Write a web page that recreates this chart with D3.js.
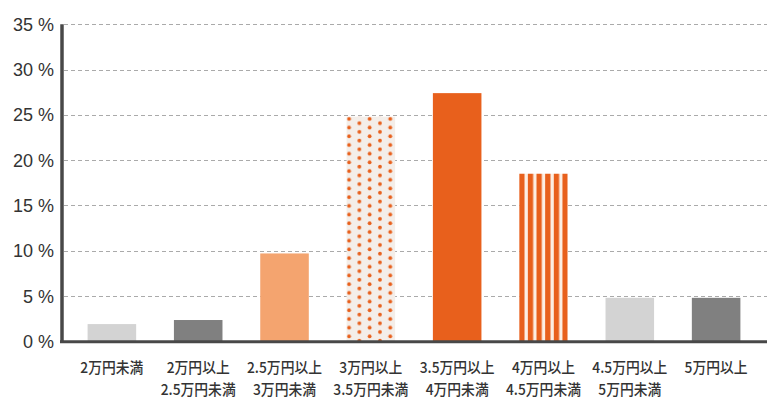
<!DOCTYPE html>
<html><head><meta charset="utf-8">
<script src="https://cdn.jsdelivr.net/npm/d3@7"></script>
<style>
html,body{margin:0;padding:0;background:#fff;}
svg{display:block;}
</style>
</head><body>
<svg id="chart" width="780" height="410"></svg>
<script>
const categories = [
  ["2万円未満"],
  ["2万円以上","2.5万円未満"],
  ["2.5万円以上","3万円未満"],
  ["3万円以上","3.5万円未満"],
  ["3.5万円以上","4万円未満"],
  ["4万円以上","4.5万円未満"],
  ["4.5万円以上","5万円未満"],
  ["5万円以上"]
];
const values = [1.9, 2.35, 9.7, 24.8, 27.4, 18.5, 4.8, 4.8];
const yTicks = [0, 5, 10, 15, 20, 25, 30, 35];
const barStyles = ["#d3d3d3", "#808080", "#f4a46f", "url(#dots)", "#e8601c", "url(#stripes)", "#d3d3d3", "#808080"];

const svg = d3.select("#chart");
const x = d3.scaleBand().domain(d3.range(categories.length)).range([63, 765]).paddingInner(0.4375).paddingOuter(0.285);
const y = d3.scaleLinear().domain([0, 35]).range([341.3, 24.3]);
const bw = x.bandwidth();

const defs = svg.append("defs");
const sx = x(5);
const stripeW = 5.3;
const period = (bw - stripeW) / 5;
const sp = defs.append("pattern").attr("id", "stripes").attr("patternUnits", "userSpaceOnUse")
  .attr("x", sx).attr("y", 0).attr("width", period).attr("height", 10);
sp.append("rect").attr("width", period).attr("height", 10).attr("fill", "#fdeee2");
sp.append("rect").attr("width", stripeW).attr("height", 10).attr("fill", "#e8601c");
const dx = x(3);
const dp = defs.append("pattern").attr("id", "dots").attr("patternUnits", "userSpaceOnUse")
  .attr("x", dx).attr("y", y(values[3])).attr("width", 20.6).attr("height", 8.7);
dp.append("rect").attr("width", 20.6).attr("height", 8.7).attr("fill", "#f4eee9");
dp.append("circle").attr("cx", 2.5).attr("cy", 2.2).attr("r", 1.9).attr("fill", "#e8601c");
dp.append("circle").attr("cx", 12.8).attr("cy", 6.55).attr("r", 1.9).attr("fill", "#e8601c");

svg.append("g").selectAll("line").data(yTicks.filter(d => d > 0)).join("line")
  .attr("x1", 64).attr("x2", 767)
  .attr("y1", d => Math.round(y(d)) + 0.5).attr("y2", d => Math.round(y(d)) + 0.5)
  .attr("stroke", "#aaaaaa").attr("stroke-width", 1).attr("stroke-dasharray", "4,3");

svg.append("g").selectAll("rect").data(values).join("rect")
  .attr("x", (d, i) => x(i)).attr("width", bw)
  .attr("y", d => y(d)).attr("height", d => y(0) - y(d))
  .attr("fill", (d, i) => barStyles[i]);

svg.append("line").attr("x1", 62).attr("x2", 62).attr("y1", y(35)).attr("y2", 343)
  .attr("stroke", "#484848").attr("stroke-width", 3.5);
svg.append("line").attr("x1", 60).attr("x2", 767).attr("y1", 341.8).attr("y2", 341.8)
  .attr("stroke", "#484848").attr("stroke-width", 3);

svg.append("g").selectAll("text").data(yTicks).join("text")
  .attr("x", 54).attr("y", d => y(d) + 6.5)
  .attr("text-anchor", "end")
  .attr("font-family", "Liberation Sans, Arial, sans-serif")
  .attr("font-size", 18).attr("fill", "#333")
  .text(d => d + " %");

const xl = svg.append("g").selectAll("g").data(categories).join("g")
  .attr("transform", (d, i) => `translate(${x(i) + bw / 2},0)`);
xl.each(function(lines) {
  const g = d3.select(this);
  lines.forEach((t, j) => {
    g.append("text")
      .attr("transform", `translate(0,${373 + j * 22}) scale(0.92,1)`)
      .attr("text-anchor", "middle")
      .attr("font-family", "Noto Sans CJK JP, sans-serif")
      .attr("font-weight", 500)
      .attr("font-size", 15).attr("fill", "#333")
      .text(t);
  });
});
</script>
</body></html>
